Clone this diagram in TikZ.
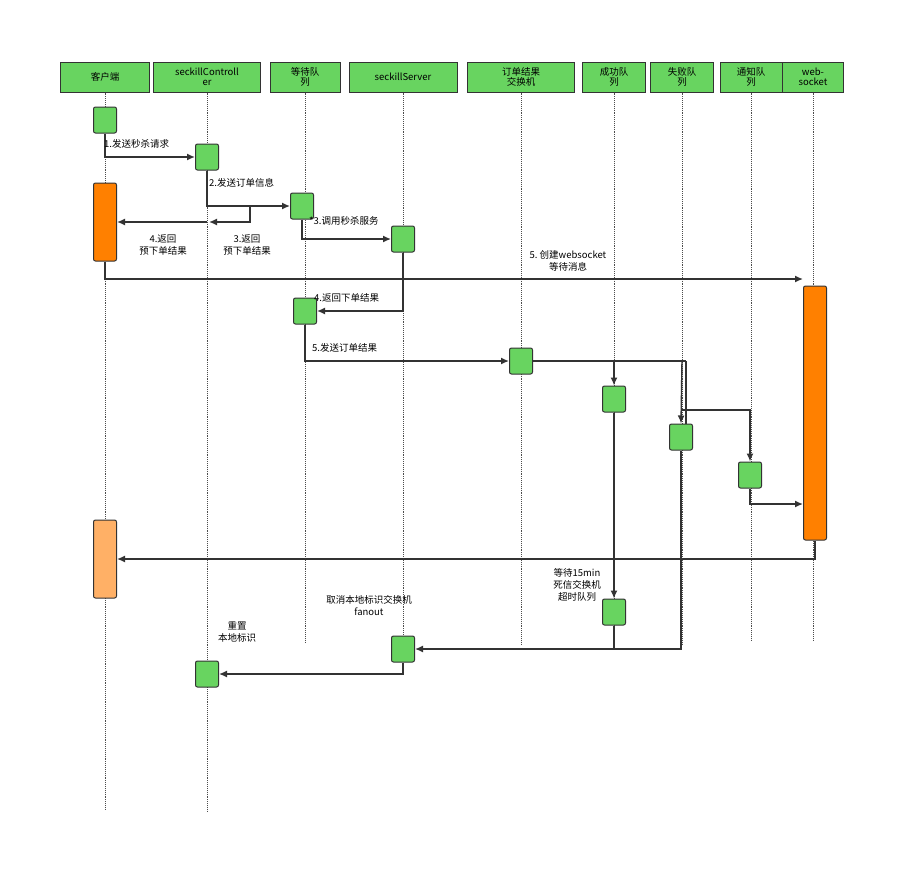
\documentclass[tikz,border=0pt]{standalone}
\usepackage{fontspec}
\setmainfont{Noto Sans CJK SC}
\usetikzlibrary{arrows.meta}
\definecolor{boxgreen}{RGB}{104,212,96}
\definecolor{actorange}{RGB}{255,128,0}
\definecolor{lightorange}{RGB}{255,176,102}
\tikzset{
  head/.style={draw=black!80,fill=boxgreen,line width=1pt,minimum height=30pt,inner sep=1pt,align=center,font=\fontsize{9.5}{10.5}\selectfont},
  act/.style={draw=black!80,fill=boxgreen,line width=1pt,rounded corners=2pt,minimum width=23pt,minimum height=26pt},
  life/.style={densely dotted,line width=0.9pt,black!70},
  msg/.style={-{Latex[length=8pt,width=7pt]},line width=1.4pt,black!80},
  lbl/.style={font=\fontsize{9.5}{12}\selectfont,align=center,inner sep=0pt}
}
\begin{document}
\begin{tikzpicture}[x=1pt,y=-1pt]
\useasboundingbox[fill=white] (0,0) rectangle (906,878);
% heads
\node[head,minimum width=89pt] (hc) at (105,77) {客户端};
\node[head,minimum width=107pt,text width=100pt] (hk) at (207,77) {seckillControll\\er};
\node[head,minimum width=70pt,text width=40pt] (hw) at (305,77) {等待队\\列};
\node[head,minimum width=108pt] (hs) at (403,77) {seckillServer};
\node[head,minimum width=107pt,text width=60pt] (he) at (521,77) {订单结果\\交换机};
\node[head,minimum width=63pt,text width=30pt] (hy) at (614,77) {成功队\\列};
\node[head,minimum width=63pt,text width=30pt] (hf) at (682,77) {失败队\\列};
\node[head,minimum width=62pt,text width=30pt] (hn) at (751,77) {通知队\\列};
\node[head,minimum width=61pt,text width=40pt] (hb) at (813,77) {web-\\socket};
% lifelines
\foreach \h/\x/\e in {hc/105/810,hk/207/812,hw/305/642,hs/403/642,he/521/645,hy/614/640,hf/682/645,hn/751/640,hb/813/640}
  \draw[life] (\h.south) -- (\x,\e);
% activations
\node[act] (c1) at (105,120) {};
\node[act] (k1) at (207,157) {};
\node[act,fill=actorange,minimum height=78pt] (c2) at (105,222) {};
\node[act] (w1) at (302,206) {};
\node[act] (s1) at (403,239) {};
\node[act] (w2) at (305,311) {};
\node[act] (e1) at (521,361) {};
\node[act] (y1) at (614,399) {};
\node[act] (f1) at (681,437) {};
\node[act] (n1) at (750,475) {};
\node[act,fill=actorange,minimum height=254pt] (b1) at (815,413) {};
\node[act,fill=lightorange,minimum height=78pt] (c3) at (105,559) {};
\node[act] (y2) at (614,612) {};
\node[act] (s2) at (403,649) {};
\node[act] (k2) at (207,674) {};
% messages
\draw[msg] (c1.south) |- (k1.west);
\node[lbl,anchor=west] at (104,144) {1.发送秒杀请求};
\draw[msg] (k1.south) |- (w1.west);
\node[lbl,anchor=west] at (209,183) {2.发送订单信息};
\coordinate (r3) at (250,207);
\draw[msg] (r3) |- (209,222);
\draw[msg] (207,222) -- (c2.east |- 0,222);
\node[lbl] at (163,245) {4.返回\\预下单结果};
\node[lbl] at (247,245) {3.返回\\预下单结果};
\draw[msg] (w1.south) |- (s1.west);
\node[lbl,anchor=west] at (309,221) {*3.调用秒杀服务};
\draw[msg] (c2.south) |- (b1.west |- 0,279);
\node[lbl] at (568,261) {5.\ 创建websocket\\等待消息};
\draw[msg] (s1.south) |- (w2.east);
\node[lbl,anchor=west] at (314,298) {4.返回下单结果};
\draw[msg] (w2.south) |- (e1.west);
\node[lbl,anchor=west] at (312,348) {5.发送订单结果};
\coordinate (j1) at (682,361);
\coordinate (j2) at (686,361);
\draw[line width=1.4pt,black!80] (e1.east) -- (j2);
\draw[msg] (y1.north |- j1) -- (y1.north);
\draw[msg] (j1) -- (f1.north);
\draw[line width=1.4pt,black!80] (j2) -- (686,424);
\draw[msg] (682,410) -| (n1.north);
\draw[msg] (n1.south) |- (b1.west |- 0,504);
\draw[msg] (b1.south) |- (c3.east);
\node[lbl] at (577,585) {等待15min\\死信交换机\\超时队列};
\draw[msg] (y1.south) -- (y2.north);
\draw[msg] (y2.south) |- (s2.east);
\draw[line width=1.4pt,black!80] (f1.south) |- (614,649);
\draw[msg] (s2.south) |- (k2.east);
\node[lbl] at (369,606) {取消本地标识交换机\\fanout};
\node[lbl] at (237,632) {重置\\本地标识};
\end{tikzpicture}
\end{document}
